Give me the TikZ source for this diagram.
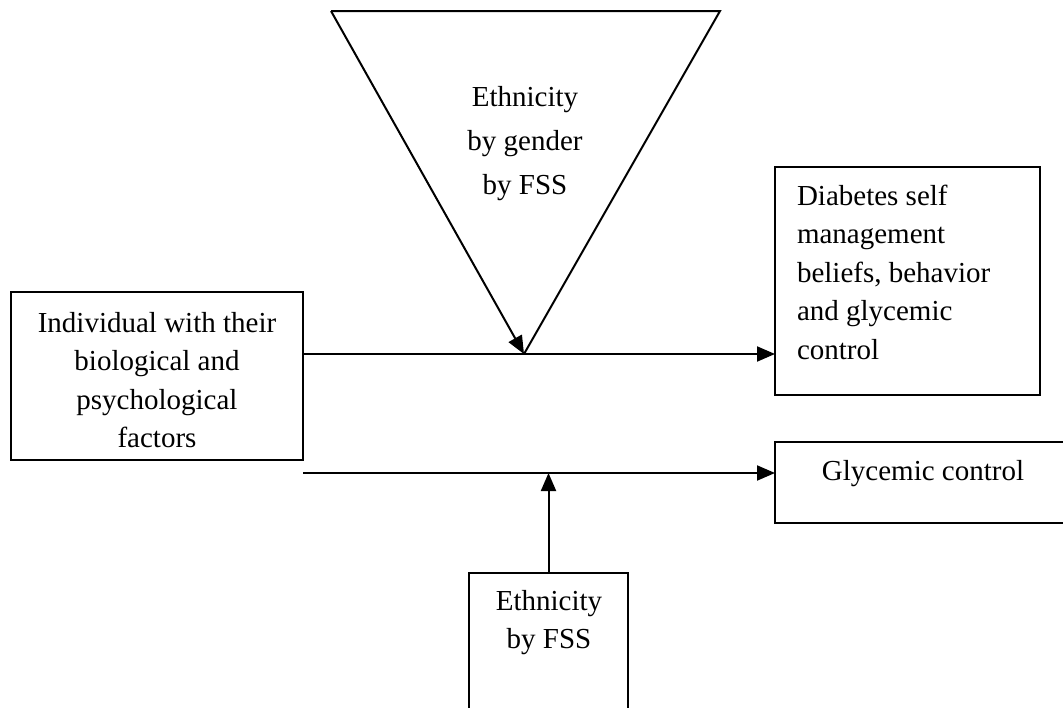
\documentclass[tikz,border=0pt]{standalone}
\usepackage{fontspec}
\setmainfont{Liberation Serif}
\usetikzlibrary{arrows.meta}
\tikzset{
  box/.style={draw, line width=2pt, inner sep=0pt, outer sep=0pt},
  txt/.style={font=\fontsize{29}{38.5}\selectfont, inner sep=0pt, outer sep=0pt},
  conn/.style={line width=2pt, -{Triangle[length=18pt,width=15pt]}},
  edge/.style={line width=2pt}
}
\begin{document}
\begin{tikzpicture}[x=1pt,y=-1pt]
\useasboundingbox (0,0) rectangle (1063,707);
% boxes
\node[box, minimum width=292pt, minimum height=168pt] (ind) at (157,376) {};
\node[box, minimum width=265pt, minimum height=228pt] (dsm) at (907.5,281) {};
\node[box, minimum width=295pt, minimum height=81pt] (gly) at (922.5,482.5) {};
\node[box, minimum width=159pt, minimum height=150pt] (eth) at (548.5,648) {};
% triangle
\coordinate (tA) at (331,11);
\coordinate (tB) at (720,11);
\coordinate (tC) at (524,354);
\draw[edge, line join=miter] (tC) -- (tB) -- (tA);
\draw[conn] (tA) -- (tC);
% texts
\node[txt, align=center, anchor=north] (tind) at (157,312) {Individual with their\\biological and\\psychological\\factors};
\node[txt, align=center, anchor=north, font=\fontsize{29}{44}\selectfont] (ttri) at (525,86) {Ethnicity\\by gender\\by FSS};
\node[txt, align=left, anchor=north west] (tdsm) at (797,185) {Diabetes self\\management\\beliefs, behavior\\and glycemic\\control};
\node[txt, anchor=north] (tgly) at (923,460) {Glycemic control};
\node[txt, align=center, anchor=north] (teth) at (549,590) {Ethnicity\\by FSS};
% connectors
\coordinate (u1) at (ind.east |- 0,354);
\coordinate (u2) at (dsm.west |- 0,354);
\draw[conn] (u1) -- (u2);
\coordinate (l1) at (ind.east |- 0,473);
\coordinate (l2) at (gly.west |- 0,473);
\draw[conn] (l1) -- (l2);
\coordinate (v2) at (eth.north |- 0,473);
\draw[conn] (eth.north) -- (v2);
\end{tikzpicture}
\end{document}
